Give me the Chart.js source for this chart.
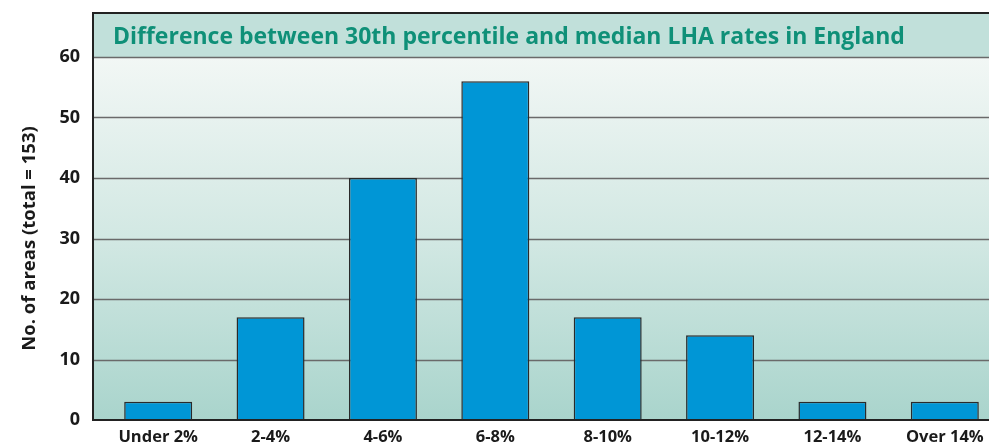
<!DOCTYPE html>
<html>
<head>
<meta charset="utf-8">
<script src="https://cdn.jsdelivr.net/npm/chart.js@4.4.1/dist/chart.umd.min.js"></script>
<style>
  html, body { margin: 0; padding: 0; background: #fff; overflow: hidden; }
  #wrap { width: 1010px; height: 447px; }
</style>
</head>
<body>
<div id="wrap"><canvas id="lhaChart"></canvas></div>
<script>
const categories = ['Under 2%', '2-4%', '4-6%', '6-8%', '8-10%', '10-12%', '12-14%', 'Over 14%'];
const areaCounts = [3, 17, 40, 56, 17, 14, 3, 3];
const yTicks = [0, 10, 20, 30, 40, 50, 60];
const chartTitle = 'Difference between 30th percentile and median LHA rates in England';
const yAxisTitle = 'No. of areas (total = 153)';

const FRAME_LEFT = 93;   // frame starts a little left of the first category slot
const TITLE_TOP = 13;

// background, title band and gridlines are drawn here so they can start at the frame edge
const framePlugin = {
    id: 'frame',
    beforeDatasetsDraw(chart) {
        const { ctx, chartArea, scales } = chart;
        const right = chart.width;
        ctx.save();

        // title band
        ctx.fillStyle = '#c1e0da';
        ctx.fillRect(FRAME_LEFT, TITLE_TOP, right - FRAME_LEFT, chartArea.top - TITLE_TOP);

        // plot gradient
        const grad = ctx.createLinearGradient(0, chartArea.top, 0, chartArea.bottom);
        grad.addColorStop(0, '#f2f7f5');
        grad.addColorStop(0.5, '#d2e8e3');
        grad.addColorStop(1, '#a9d4cc');
        ctx.fillStyle = grad;
        ctx.fillRect(FRAME_LEFT, chartArea.top, right - FRAME_LEFT, chartArea.bottom - chartArea.top);

        // gridlines
        ctx.strokeStyle = '#6a6a6a';
        ctx.lineWidth = 1.5;
        yTicks.forEach(v => {
            if (v === 0) return;
            const y = Math.round(scales.y.getPixelForValue(v)) + 0.5;
            ctx.beginPath();
            ctx.moveTo(FRAME_LEFT, y);
            ctx.lineTo(right, y);
            ctx.stroke();
        });

        // title text
        ctx.fillStyle = '#0f9078';
        ctx.font = 'bold 23px "Open Sans", sans-serif';
        ctx.textBaseline = 'middle';
        ctx.textAlign = 'left';
        ctx.fillText(chartTitle, 113, (TITLE_TOP + chartArea.top) / 2 + 2);
        ctx.restore();
    },
    afterDatasetsDraw(chart) {
        const { ctx, chartArea } = chart;
        const right = chart.width;
        ctx.save();
        ctx.strokeStyle = '#222';
        ctx.lineWidth = 2;
        ctx.beginPath();
        ctx.moveTo(right, TITLE_TOP);
        ctx.lineTo(FRAME_LEFT, TITLE_TOP);
        ctx.lineTo(FRAME_LEFT, chartArea.bottom);
        ctx.lineTo(right, chartArea.bottom);
        ctx.stroke();
        ctx.restore();
    }
};

const ctx = document.getElementById('lhaChart').getContext('2d');
const lhaChart = new Chart(ctx, {
    type: 'bar',
    data: {
        labels: categories,
        datasets: [{
            label: 'Areas',
            data: areaCounts,
            backgroundColor: '#0096d6',
            borderColor: '#2a2a2a',
            borderWidth: 1.5,
            categoryPercentage: 1,
            barPercentage: 0.605
        }]
    },
    options: {
        responsive: true,
        maintainAspectRatio: false,
        animation: false,
        layout: { padding: { top: 57, right: 9, left: 0, bottom: 0 } },
        plugins: {
            legend: { display: false },
            tooltip: { enabled: false }
        },
        scales: {
            x: {
                grid: { display: false, drawTicks: false },
                border: { display: false },
                ticks: {
                    color: '#1a1a1a',
                    padding: 7,
                    maxRotation: 0,
                    autoSkip: false,
                    font: { family: '"Open Sans", sans-serif', size: 16.5, weight: 'bold' }
                },
                afterFit(scale) { scale.height = 27; }
            },
            y: {
                min: 0,
                max: 60,
                afterBuildTicks(scale) { scale.ticks = yTicks.map(v => ({ value: v })); },
                // invisible tick marks push the labels left without adding vertical padding
                grid: { drawOnChartArea: false, drawTicks: true, tickLength: 20, tickColor: 'rgba(0,0,0,0)' },
                border: { display: false },
                ticks: {
                    color: '#1a1a1a',
                    padding: 2,
                    font: { family: '"Open Sans", sans-serif', size: 18, weight: 'bold' }
                },
                title: {
                    display: true,
                    text: yAxisTitle,
                    color: '#1a1a1a',
                    padding: { top: 19, bottom: 0 },
                    font: { family: '"Open Sans", sans-serif', size: 18.5, weight: 'bold' }
                },
                afterFit(scale) { scale.width = 102; }
            }
        }
    },
    plugins: [framePlugin]
});
</script>
</body>
</html>
